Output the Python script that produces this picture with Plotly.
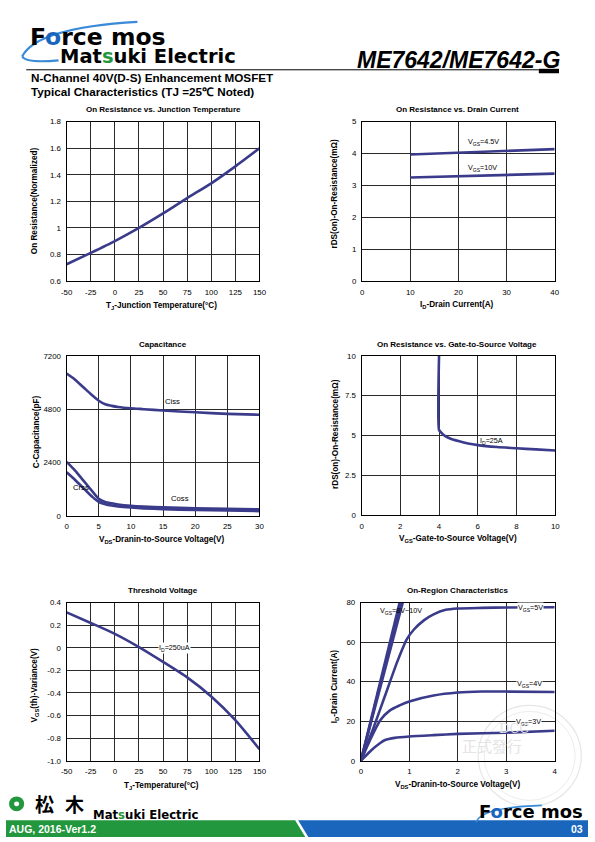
import plotly.graph_objects as go

W, H = 595, 842
# The captured picture maps page x -> 10 + 0.9675 * x (vertical is 1:1),
# so reference pixel positions are converted back before placing marks.
OFFX, SCX = 10.0, 0.9675


def X(px):
    v = ((px - OFFX) / SCX) / W
    return min(max(v, 0.0), 1.0)


def Y(py):
    return 1 - py / H


# ---------------- DATA ----------------
# 1. On Resistance vs Junction Temperature
tj_temp = [-50, -25, 0, 25, 50, 75, 100, 125, 150]
ron_normalized = [0.726, 0.812, 0.901, 1.0, 1.109, 1.225, 1.336, 1.464, 1.6]

# 2. On Resistance vs Drain Current
id_current = [10, 40]
rds_vgs45 = [3.97, 4.14]
rds_vgs10 = [3.25, 3.37]

# 3. Capacitance
vds_cap = [0, 1, 2, 3, 4, 5, 6, 7, 8, 10, 12, 15, 20, 25, 30]
ciss = [6410, 6200, 5950, 5680, 5420, 5180, 5020, 4950, 4900, 4840, 4800, 4740, 4660, 4590, 4550]
coss = [2430, 2130, 1800, 1450, 1100, 760, 620, 560, 510, 450, 415, 380, 340, 310, 290]
crss = [1960, 1700, 1420, 1130, 850, 620, 520, 460, 420, 370, 335, 300, 260, 235, 210]

# 4. On Resistance vs Gate-to-Source Voltage
vgs_sweep = [4.0, 4.0, 4.1, 4.3, 4.6, 5.0, 5.5, 6.0, 7.0, 8.0, 9.0, 10.0]
rds_id25 = [10.0, 5.35, 5.2, 4.98, 4.8, 4.65, 4.5, 4.4, 4.28, 4.2, 4.13, 4.06]

# 5. Threshold voltage
tj_vth = [-50, -25, 0, 25, 50, 75, 100, 125, 150]
vth_var = [0.313, 0.219, 0.123, 0.006, -0.125, -0.262, -0.431, -0.641, -0.898]

# 6. On-Region Characteristics
vds_lin = [0, 0.8]
id_vgs8 = [0, 80]
vds_lin9 = [0, 0.83]
id_vgs9 = [0, 80]
vds_lin10 = [0, 0.865]
id_vgs10 = [0, 80]
vds_5v = [0, 0.25, 0.5, 0.75, 0.95, 1.1, 1.3, 1.5, 1.75, 2.0, 2.5, 3.0, 4.0]
id_5v = [0, 16, 33, 50, 61.5, 66.5, 71, 74, 76.3, 77, 77.3, 77.5, 77.6]
vds_4v = [0, 0.2, 0.4, 0.6, 0.8, 1.0, 1.5, 2.0, 2.5, 3.0, 4.0]
id_4v = [0, 11, 20.5, 25.5, 28, 30, 33, 34.5, 35, 35, 34.8]
vds_3v = [0, 0.2, 0.4, 0.5, 0.7, 1.0, 1.5, 2.0, 3.0, 4.0]
id_3v = [0, 5, 9, 10.5, 11.6, 12.3, 13, 13.6, 14.2, 15.2]

# tick values / labels
temp_ticks = [-50, -25, 0, 25, 50, 75, 100, 125, 150]
temp_ticktext = ["-50", "-25", "0", "25", "50", "75", "100", "125", "150"]
ron_ticks = [0.6, 0.8, 1.0, 1.2, 1.4, 1.6, 1.8]
ron_ticktext = ["0.6", "0.8", "1", "1.2", "1.4", "1.6", "1.8"]
id_ticks = [0, 10, 20, 30, 40]
rds_ticks = [0, 1, 2, 3, 4, 5]
vds_ticks = [0, 5, 10, 15, 20, 25, 30]
cap_ticks = [0, 2400, 4800, 7200]
vgs_ticks = [0, 2, 4, 6, 8, 10]
rds2_ticks = [0, 2.5, 5, 7.5, 10]
rds2_ticktext = ["0", "2.5", "5", "7.5", "10"]
vth_ticks = [-1.0, -0.8, -0.6, -0.4, -0.2, 0, 0.2, 0.4]
vth_ticktext = ["-1.0", "-0.8", "-0.6", "-0.4", "-0.2", "0", "0.2", "0.4"]
vds2_ticks = [0, 1, 2, 3, 4]
id2_ticks = [0, 20, 40, 60, 80]

# ---------------- STYLE ----------------
FONT = "Liberation Sans, Arial, sans-serif"
LOGO = "DejaVu Sans, Verdana, sans-serif"
CURVE = "#3b3b8c"
LW = 2.6

boxes = [
    (70, 260.7, 119, 280),
    (362.3, 552.7, 119, 280),
    (70, 260.7, 355.7, 517.3),
    (361.7, 553.3, 355.7, 516.7),
    (70, 260.7, 605, 765),
    (361, 552.7, 605, 765),
]

axis_specs = [
    ([-50, 150], temp_ticks, temp_ticktext, [0.6, 1.8], ron_ticks, ron_ticktext),
    ([0, 40], id_ticks, [str(v) for v in id_ticks], [0, 5], rds_ticks, [str(v) for v in rds_ticks]),
    ([0, 30], vds_ticks, [str(v) for v in vds_ticks], [0, 7200], cap_ticks, [str(v) for v in cap_ticks]),
    ([0, 10], vgs_ticks, [str(v) for v in vgs_ticks], [0, 10], rds2_ticks, rds2_ticktext),
    ([-50, 150], temp_ticks, temp_ticktext, [-1.0, 0.4], vth_ticks, vth_ticktext),
    ([0, 4], vds2_ticks, [str(v) for v in vds2_ticks], [0, 80], id2_ticks, [str(v) for v in id2_ticks]),
]

fig = go.Figure()
layout_axes = {}
for i, ((l, r, t, b), (xr, xt, xtt, yr, yt, ytt)) in enumerate(zip(boxes, axis_specs), start=1):
    sx = "" if i == 1 else str(i)
    common = dict(
        showgrid=True, gridcolor="#2a2a2a", gridwidth=1,
        showline=True, linecolor="black", linewidth=1.2, mirror=True,
        zeroline=False, ticks="outside", ticklen=3, tickcolor="rgba(0,0,0,0)",
        tickfont=dict(family=FONT, size=7.9, color="black"),
        tickmode="array", fixedrange=True,
    )
    layout_axes["xaxis" + sx] = dict(
        common, domain=[X(l), X(r)], range=xr, tickvals=xt, ticktext=xtt,
        anchor="y" + sx,
    )
    layout_axes["yaxis" + sx] = dict(
        common, domain=[Y(b), Y(t)], range=yr, tickvals=yt, ticktext=ytt,
        anchor="x" + sx,
    )


def add_line(x, y, n):
    sx = "" if n == 1 else str(n)
    fig.add_trace(go.Scatter(
        x=x, y=y, mode="lines", xaxis="x" + sx, yaxis="y" + sx,
        line=dict(color=CURVE, width=LW, shape="spline", smoothing=0.6),
        showlegend=False, hoverinfo="skip",
    ))


add_line(tj_temp, ron_normalized, 1)
add_line(id_current, rds_vgs45, 2)
add_line(id_current, rds_vgs10, 2)
add_line(vds_cap, ciss, 3)
add_line(vds_cap, coss, 3)
add_line(vds_cap, crss, 3)
add_line(vgs_sweep, rds_id25, 4)
add_line(tj_vth, vth_var, 5)
add_line(vds_lin, id_vgs8, 6)
add_line(vds_lin9, id_vgs9, 6)
add_line(vds_lin10, id_vgs10, 6)
add_line(vds_5v, id_5v, 6)
add_line(vds_4v, id_4v, 6)
add_line(vds_3v, id_3v, 6)

ann = []


def ptext(text, px, py, size, bold=True, xanchor="center", angle=0, color="black", family=FONT, italic=False):
    t = text
    if bold:
        t = "<b>" + t + "</b>"
    if italic:
        t = "<i>" + t + "</i>"
    ann.append(dict(
        text=t, x=X(px), y=Y(py), xref="paper", yref="paper",
        xanchor=xanchor, yanchor="middle", showarrow=False, textangle=angle,
        font=dict(family=family, size=size, color=color),
    ))


def dlabel(text, x, y, n, bg=None, size=7.2):
    sx = "" if n == 1 else str(n)
    d = dict(
        text=text, x=x, y=y, xref="x" + sx, yref="y" + sx, showarrow=False,
        font=dict(family=FONT, size=size, color="black"), xanchor="center", yanchor="middle",
        borderpad=0,
    )
    if bg:
        d["bgcolor"] = bg
    ann.append(d)


# Plot titles
ptext("On Resistance vs. Junction Temperature", 165.5, 106.5, 8)
ptext("On Resistance vs. Drain Current", 456.5, 106.5, 8)
ptext("Capacitance", 165.5, 344.5, 8)
ptext("On Resistance vs. Gate-to-Source Voltage", 456.5, 344.5, 8)
ptext("Threshold Voltage", 165.5, 592.5, 8)
ptext("On-Region Characteristics", 456.5, 592.5, 8)

# Axis titles
ptext("T<sub>J</sub>-Junction Temperature(°C)", 163.5, 305, 8.2)
ptext("On Resistance(Normalized)", 39, 199, 8.2, angle=-90)
ptext("I<sub>D</sub>-Drain Current(A)", 456, 304.5, 8.2)
ptext("rDS(on)-On-Resistance(mΩ)", 335, 192, 8.2, angle=-90)
ptext("V<sub>DS</sub>-Dranin-to-Source Voltage(V)", 164, 541.5, 8.2)
ptext("C-Capacitance(pF)", 40.5, 432, 8.2, angle=-90)
ptext("V<sub>GS</sub>-Gate-to-Source Voltage(V)", 457, 540.5, 8.2)
ptext("rDS(on)-On-Resistance(mΩ)", 336, 435, 8.2, angle=-90)
ptext("T<sub>J</sub>-Temperature(°C)", 163.5, 790.5, 8.2)
ptext("V<sub>GS</sub>(th)-Variance(V)", 38.5, 688, 8.2, angle=-90)
ptext("V<sub>DS</sub>-Dranin-to-Source Voltage(V)", 456.5, 789, 8.2)
ptext("I<sub>D</sub>-Drain Current(A)", 335, 690, 8.2, angle=-90)

# Data labels
dlabel("V<sub>GS</sub>=4.5V", 25.2, 4.35, 2)
dlabel("V<sub>GS</sub>=10V", 25.0, 3.55, 2)
dlabel("Ciss", 16.5, 5150, 3, size=7.7)
dlabel("Crss", 2.2, 1260, 3, size=7.7)
dlabel("Coss", 17.6, 780, 3, size=7.7)
dlabel("I<sub>D</sub>=25A", 6.7, 4.66, 4)
dlabel("I<sub>D</sub>=250uA", 61.9, 0.0, 5, bg="white")
dlabel("V<sub>GS</sub>=8V~10V", 0.82, 75.8, 6)
dlabel("V<sub>GS</sub>=5V", 3.5, 77.3, 6, bg="white")
dlabel("V<sub>GS</sub>=4V", 3.49, 38.8, 6, bg="white")
dlabel("V<sub>GS</sub>=3V", 3.47, 19.7, 6, bg="white")

# Header
BLUE = "#1a66bd"
GREEN = "#22973d"
ptext("F<span style='color:%s'>o</span>rce mos" % BLUE, 32, 33, 23.5, xanchor="left", family=LOGO)
ptext("Mat<span style='color:%s'>s</span>uki Electric" % GREEN, 61, 53.5, 19.5, xanchor="left", family=LOGO)
ptext("ME7642/ME7642-G", 560, 57, 23, xanchor="right", italic=True)
ptext("N-Channel 40V(D-S) Enhancement MOSFET", 33, 74, 11.7, xanchor="left")
ptext("Typical Characteristics (TJ =25℃ Noted)", 33, 88, 11.7, xanchor="left")

# Footer
ptext("AUG, 2016-Ver1.2", 10.5, 833.5, 10.5, xanchor="left", color="white")
ptext("03", 583, 833.5, 10.5, xanchor="right", color="white")
ptext("松", 48, 808.5, 19, xanchor="center", family="Noto Sans CJK JP")
ptext("木", 78, 808.5, 19, xanchor="center", family="Noto Sans CJK JP")
ptext("Mat<span style='color:%s'>s</span>uki Electric" % GREEN, 94, 819.5, 11.7, xanchor="left", family=LOGO)
ptext("F<span style='color:%s'>o</span>rce mos" % BLUE, 476, 816.5, 18, xanchor="left", family=LOGO)

# watermark text
ann.append(dict(text="DCC", x=X(529), y=Y(742), xref="paper", yref="paper", showarrow=False,
                font=dict(family="DejaVu Serif, serif", size=13, color="#e4e4e4")))
ann.append(dict(text="正式發行", x=X(522), y=Y(762), xref="paper", yref="paper", showarrow=False,
                font=dict(family="Noto Sans CJK TC", size=15, color="#e4e4e4")))

shapes = []


def rect(x0, y0, x1, y1, color, layer="above"):
    shapes.append(dict(type="rect", xref="paper", yref="paper", x0=X(x0), x1=X(x1), y0=Y(y1), y1=Y(y0),
                       fillcolor=color, line=dict(width=0), layer=layer))


def poly(pts, color):
    s = "M " + " L ".join("%f,%f" % (X(a), Y(b)) for a, b in pts) + " Z"
    shapes.append(dict(type="path", xref="paper", yref="paper", path=s,
                       fillcolor=color, line=dict(width=0), layer="above"))


def qcurve(p0, c, p1, color, width):
    s = "M %f,%f Q %f,%f %f,%f" % (X(p0[0]), Y(p0[1]), X(c[0]), Y(c[1]), X(p1[0]), Y(p1[1]))
    shapes.append(dict(type="path", xref="paper", yref="paper", path=s,
                       line=dict(color=color, width=width), layer="above"))


# header rule and G underline
shapes.append(dict(type="line", xref="paper", yref="paper", x0=X(30), x1=X(537), y0=Y(66.5), y1=Y(66.5),
                   line=dict(color="black", width=1)))
rect(537, 65.5, 557, 70, "black")
qcurve((26, 53), (40, 24), (140, 18), "#3a8ad8", 2.2)
qcurve((26, 53), (30, 60), (62, 57), "#3a8ad8", 2.2)

# footer bars
poly([(0, 825), (296, 825), (306, 842), (0, 842)], GREEN)
poly([(299, 825), (600, 825), (600, 842), (309, 842)], BLUE)
qcurve((475, 827), (480, 812), (540, 810), "#3a8ad8", 1.6)
# green emblem
shapes.append(dict(type="circle", xref="paper", yref="paper", x0=X(13), x1=X(28), y0=Y(816), y1=Y(801),
                   fillcolor=GREEN, line=dict(width=0)))
shapes.append(dict(type="circle", xref="paper", yref="paper", x0=X(18), x1=X(23), y0=Y(811), y1=Y(806),
                   fillcolor="white", line=dict(width=0)))

# watermark circles
shapes.append(dict(type="circle", xref="paper", yref="paper", x0=X(477), x1=X(579), y0=Y(811), y1=Y(709),
                   line=dict(color="#e6e6e6", width=1.2), layer="below"))
shapes.append(dict(type="circle", xref="paper", yref="paper", x0=X(483), x1=X(573), y0=Y(805), y1=Y(715),
                   line=dict(color="#ececec", width=1), layer="below"))

fig.update_layout(
    width=W, height=H, autosize=False,
    margin=dict(l=0, r=0, t=0, b=0),
    paper_bgcolor="white", plot_bgcolor="rgba(0,0,0,0)",
    showlegend=False,
    annotations=ann, shapes=shapes,
    **layout_axes,
)

fig.write_html(
    "out.html",
    config={"displayModeBar": False},
    post_script="document.documentElement.style.margin='0';document.body.style.margin='0';document.body.style.padding='0';document.documentElement.style.overflow='hidden';document.body.style.overflow='hidden';",
)
